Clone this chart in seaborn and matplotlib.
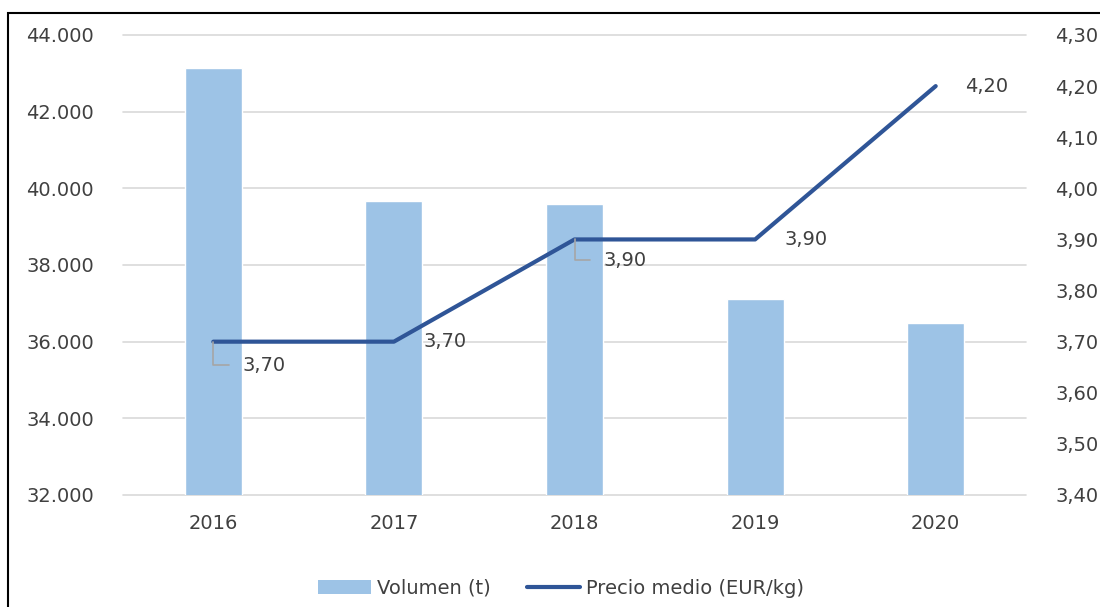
import numpy as np
import pandas as pd
import matplotlib
matplotlib.use('Agg')
import matplotlib.pyplot as plt
from matplotlib.patches import Rectangle
from matplotlib.lines import Line2D
from matplotlib.patches import Patch
import seaborn as sns

sns.set_theme(style="white")
plt.rcParams['font.family'] = ['DejaVu Sans']

# Data
years = ['2016', '2017', '2018', '2019', '2020']
volumen = [43150, 39670, 39590, 37110, 36490]
precio = [3.70, 3.70, 3.90, 3.90, 4.20]
precio_labels = ['3,70', '3,70', '3,90', '3,90', '4,20']

bar_color = '#9DC3E6'
line_color = '#2F5597'
text_color = '#404040'
fs = 14

df = pd.DataFrame({'year': years, 'volumen': volumen, 'precio': precio})
df['pos'] = np.arange(len(df))

fig = plt.figure(figsize=(11, 6.07), dpi=100)
ax = fig.add_axes([123/1100, 1 - 495/607, 903/1100, 460/607])

sns.barplot(data=df, x='year', y='volumen', color=bar_color, width=0.316,
            saturation=1, ax=ax)
ax.set_ylim(32000, 44000)
ax.set_yticks(np.arange(32000, 44001, 2000))
ax.set_yticklabels([f'{v:,.0f}'.replace(',', '.') for v in np.arange(32000, 44001, 2000)])
ax.set_xlim(-0.5, 4.5)
ax.set_xlabel('')
ax.set_ylabel('')
ax.grid(axis='y', color='#D9D9D9', linewidth=1.2)
ax.set_axisbelow(True)
for gl in ax.get_ygridlines():
    gl.set_clip_on(False)
for s in ax.spines.values():
    s.set_visible(False)
ax.tick_params(axis='both', length=0, labelsize=fs, colors=text_color)
ax.tick_params(axis='y', pad=21)
ax.tick_params(axis='x', pad=14)

ax2 = ax.twinx()
sns.lineplot(data=df, x='pos', y='precio', color=line_color, linewidth=3,
             ax=ax2, legend=False)
ax2.set_ylim(3.40, 4.30)
rticks = np.arange(3.40, 4.301, 0.10)
ax2.set_yticks(rticks)
ax2.set_yticklabels([f'{v:.2f}'.replace('.', ',') for v in rticks])
ax2.set_xlim(-0.5, 4.5)
ax2.set_xlabel('')
ax2.set_ylabel('')
ax2.grid(False)
for s in ax2.spines.values():
    s.set_visible(False)
ax2.tick_params(axis='y', length=0, labelsize=fs, colors=text_color, pad=21)

# data labels: (dx, dy) in points; leader lines for shifted labels
offsets = [(21, -17, True), (21, 0, False), (21, -15, True), (21, 0, False), (21, 0, False)]
for x, y, lab, (dx, dy, lead) in zip(df['pos'], precio, precio_labels, offsets):
    ax2.annotate(lab, (x, y), xytext=(dx, dy), textcoords='offset points',
                 ha='left', va='center', fontsize=fs, color=text_color)
    if lead:
        ax2.annotate('', (x, y), xytext=(dx - 10, dy), textcoords='offset points',
                     arrowprops=dict(arrowstyle='-', color='#A6A6A6', lw=1.2,
                                     connectionstyle='angle,angleA=0,angleB=90,rad=0',
                                     shrinkA=0, shrinkB=0))

# legend
handles = [Patch(facecolor=bar_color, edgecolor='none', label='Volumen (t)'),
           Line2D([0], [0], color=line_color, lw=3, label='Precio medio (EUR/kg)')]
fig.legend(handles=handles, loc='center', bbox_to_anchor=(561/1100, 1 - 588/607), ncol=2,
           frameon=False, fontsize=fs, labelcolor=text_color, handlelength=2.7,
           handletextpad=0.3, columnspacing=1.9)

# outer frame
fig.patches.append(Rectangle((8/1100, -0.05), 1.1, 1 - 13/607 + 0.05,
                             transform=fig.transFigure, fill=False,
                             edgecolor='black', linewidth=1.5))

fig.savefig('out.png', dpi=100)
